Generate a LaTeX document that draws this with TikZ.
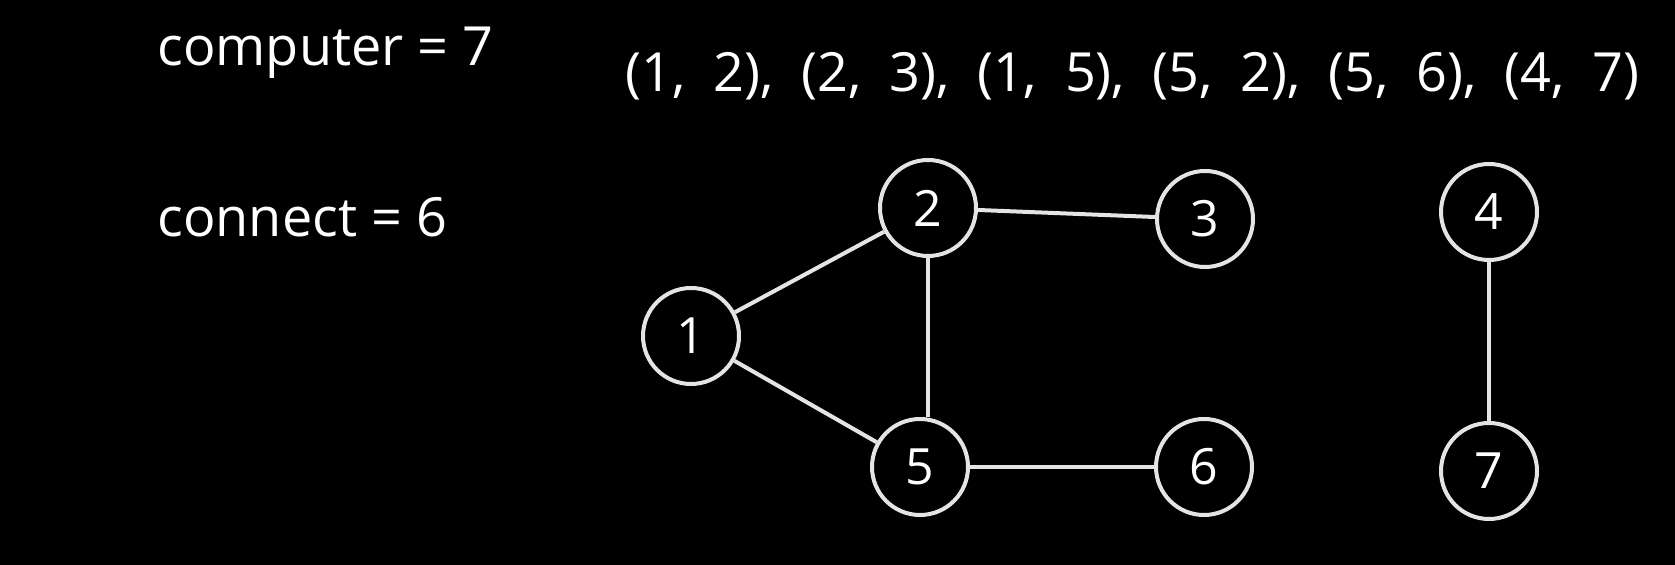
\documentclass[tikz,border=0pt]{standalone}
\usepackage{fontspec}
\setmainfont{Open Sans}
\begin{document}
\begin{tikzpicture}[x=0.5pt,y=-0.5pt,
  vert/.style={circle,draw=linegray,line width=2pt,minimum size=48pt,inner sep=0pt,
    text=white,font=\fontsize{25}{27}\selectfont},
  edge/.style={draw=linegray,line width=2pt},
  hand/.style={text=white,inner sep=0pt,font=\fontsize{27}{30}\selectfont}]
\definecolor{linegray}{HTML}{E4E4E4}
\fill[black] (0,0) rectangle (1675,565);
\useasboundingbox (0,0) rectangle (1675,565);
% texts
\node[hand,anchor=base west] (tcomp) at (157,66) {computer = 7};
\node[hand,anchor=base west] (tconn) at (157,237) {connect = 6};
\node[hand,anchor=base west] (tedges) at (625,92) {\makebox[507pt][s]{(1, 2), (2, 3), (1, 5), (5, 2), (5, 6), (4, 7)}};
% vertices
\node[vert] (n1) at (691,336) {1};
\node[vert] (n2) at (928,208) {2};
\node[vert] (n3) at (1205,219) {3};
\node[vert] (n5) at (920,467) {5};
\node[vert] (n6) at (1204,467) {6};
\node[vert] (n4) at (1489,212) {4};
\node[vert] (n7) at (1489,471) {7};
% edges
\draw[edge] (n1) -- (n2);
\draw[edge] (n2) -- (n3);
\draw[edge] (n1) -- (n5);
\draw[edge] (n2.south) -- (n2.south |- n5.north);
\draw[edge] (n5) -- (n6);
\draw[edge] (n4) -- (n7);
\end{tikzpicture}
\end{document}
